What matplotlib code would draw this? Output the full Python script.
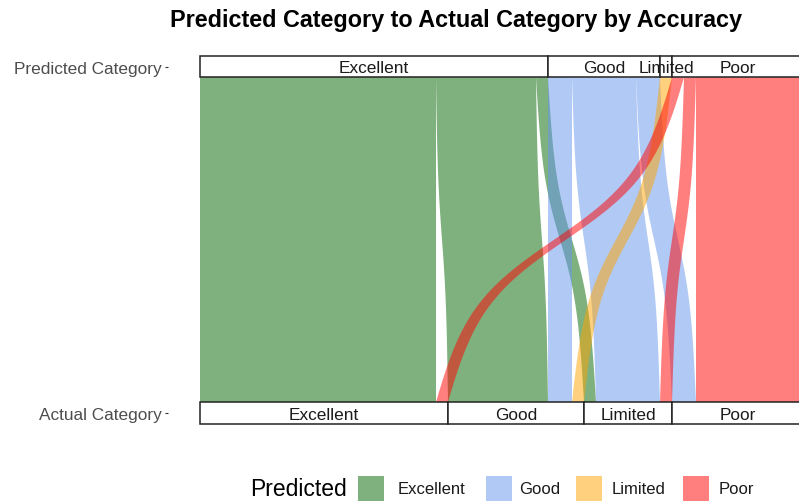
import numpy as np
import matplotlib.pyplot as plt
from matplotlib.patches import Rectangle, Polygon

plt.rcParams['font.family'] = ['Liberation Sans', 'DejaVu Sans']

# categories shared by both axes
categories = ["Excellent", "Good", "Limited", "Poor"]
fill_colors = ["darkgreen", "cornflowerblue", "orange", "red"]

# flows: predicted -> actual, with counts
predicted = ["Excellent", "Excellent", "Excellent", "Good", "Good", "Good", "Limited", "Poor", "Poor", "Poor"]
actual    = ["Excellent", "Good", "Limited", "Good", "Limited", "Poor", "Good", "Excellent", "Limited", "Poor"]
counts    = [59, 25, 3, 6, 16, 6, 3, 3, 3, 27]

W, H = 799, 502
fig = plt.figure(figsize=(W / 100, H / 100), dpi=100)

# axes placed in pixel coordinates (right side runs off the figure like the original)
ax_left, ax_right = 168, 836
ax_top, ax_bot = 40, 440
ax = fig.add_axes([ax_left / W, 1 - ax_bot / H, (ax_right - ax_left) / W, (ax_bot - ax_top) / H])
ax.set_xlim(-8, 159)
ppu = 346.5
ax.set_ylim(2 - (ax_bot - 67.5) / ppu, 2 - (ax_top - 67.5) / ppu)

h = 0.031          # half height of stratum boxes
y_top = 2 - h
y_bot = 1 + h
alpha = 0.5

idx = {c: i for i, c in enumerate(categories)}
n = len(counts)
pred_tot = [sum(c for p, c in zip(predicted, counts) if p == cat) for cat in categories]
act_tot = [sum(c for a, c in zip(actual, counts) if a == cat) for cat in categories]
pred_start = np.concatenate([[0], np.cumsum(pred_tot)[:-1]])
act_start = np.concatenate([[0], np.cumsum(act_tot)[:-1]])

# position of each flow at the top (ordered by actual inside each predicted stratum)
top_x = {}
for ci, cat in enumerate(categories):
    pos = pred_start[ci]
    order = sorted([k for k in range(n) if predicted[k] == cat], key=lambda k: idx[actual[k]])
    for k in order:
        top_x[k] = pos
        pos += counts[k]
# position at the bottom (ordered by predicted inside each actual stratum)
bot_x = {}
for ci, cat in enumerate(categories):
    pos = act_start[ci]
    order = sorted([k for k in range(n) if actual[k] == cat], key=lambda k: idx[predicted[k]])
    for k in order:
        bot_x[k] = pos
        pos += counts[k]

# flow shape: steep in the middle, slanted ends
t = np.linspace(0, 1, 200)
kk = 10
sig = 1 / (1 + np.exp(-kk * (t - 0.5)))
lo = 1 / (1 + np.exp(kk / 2))
s = 0.35 * t + 0.65 * (sig - lo) / (1 - 2 * lo)
ys = y_top + (y_bot - y_top) * t
for k in range(n):
    x0l, x1l = top_x[k], bot_x[k]
    x0r, x1r = x0l + counts[k], x1l + counts[k]
    left = x0l + (x1l - x0l) * s
    right = x0r + (x1r - x0r) * s
    pts = np.vstack([np.column_stack([left, ys]), np.column_stack([right[::-1], ys[::-1]])])
    ax.add_patch(Polygon(pts, closed=True, facecolor=fill_colors[idx[predicted[k]]],
                         alpha=alpha, edgecolor='none', zorder=2))

# strata boxes
for yc, starts, tots in [(2, pred_start, pred_tot), (1, act_start, act_tot)]:
    for ci, cat in enumerate(categories):
        ax.add_patch(Rectangle((starts[ci], yc - h), tots[ci], 2 * h, facecolor='white',
                               edgecolor='#222222', linewidth=1.1, zorder=3))
        ax.text(starts[ci] + tots[ci] / 2, yc - 0.004, cat, ha='center', va='center',
                fontsize=12.4, color='#1a1a1a', zorder=4)

ax.set_yticks([1, 2])
ax.set_yticklabels(["Actual Category", "Predicted Category"], fontsize=12.4, color='#4d4d4d')
ax.tick_params(axis='y', length=2.5, width=0.8, color='#333333', pad=2)
ax.set_xticks([])
for sp in ax.spines.values():
    sp.set_visible(False)

fig.text(456 / W, 1 - 21 / H, "Predicted Category to Actual Category by Accuracy",
         ha='center', va='center', fontsize=16.8, fontweight='bold', color='black')

# legend
ly_px = 490
fig.text(250 / W, 1 - ly_px / H, "Predicted", ha='left', va='center', fontsize=16.5, color='black')
key_x = [358, 486, 576, 683]
lab_x = [398, 519, 612, 719]
for i, cat in enumerate(categories):
    fig.patches.append(Rectangle((key_x[i] / W, 1 - (ly_px + 13) / H), 26 / W, 26 / H,
                                 transform=fig.transFigure, facecolor=fill_colors[i],
                                 alpha=alpha, edgecolor='none'))
    fig.text(lab_x[i] / W, 1 - ly_px / H, cat, ha='left', va='center', fontsize=12, color='#1a1a1a')

fig.savefig("out.png", dpi=100)
